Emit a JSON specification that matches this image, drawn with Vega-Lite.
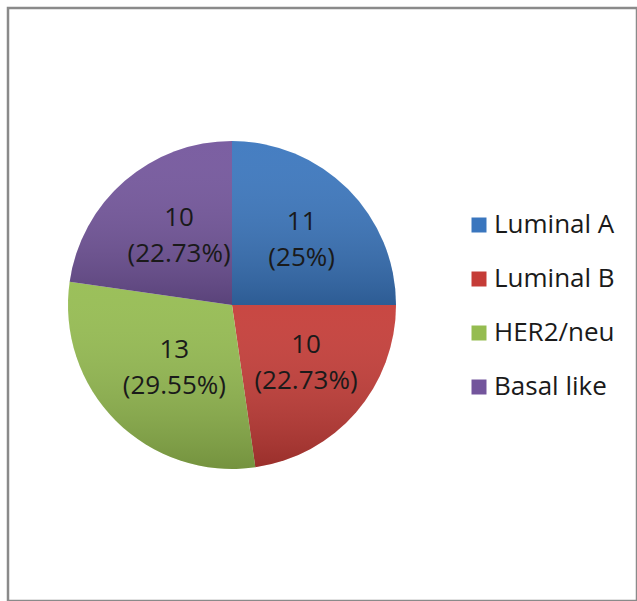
{
  "$schema": "https://vega.github.io/schema/vega-lite/v6.json",
  "autosize": "none",
  "width": 629,
  "height": 593,
  "padding": {"left": 8, "top": 8, "right": 0, "bottom": 0},
  "background": "white",
  "view": {"stroke": "#8a8a8a", "strokeWidth": 2.5, "fill": "white"},
  "config": {
    "font": "Open Sans"
  },
  "data": {
    "values": [
      {"subtype": "Luminal A", "count": 11, "idx": 1, "label": "11\n(25%)"},
      {"subtype": "Luminal B", "count": 10, "idx": 2, "label": "10\n(22.73%)"},
      {"subtype": "HER2/neu", "count": 13, "idx": 3, "label": "13\n(29.55%)"},
      {"subtype": "Basal like", "count": 10, "idx": 4, "label": "10\n(22.73%)"}
    ]
  },
  "layer": [
    {
      "mark": {"type": "arc", "outerRadius": 164, "x": 224, "y": 297},
      "encoding": {
        "theta": {"field": "count", "type": "quantitative", "stack": true},
        "order": {"field": "idx", "type": "quantitative"},
        "color": {
          "field": "subtype",
          "type": "nominal",
          "sort": null,
          "scale": {
            "domain": ["Luminal A", "Luminal B", "HER2/neu", "Basal like"],
            "range": ["#3A76BE", "#C53C37", "#95BC50", "#73559C"]
          },
          "legend": {
            "orient": "none",
            "legendX": 458,
            "legendY": 204,
            "padding": 0,
            "title": null,
            "symbolType": "square",
            "symbolSize": 225,
            "symbolStrokeWidth": 0,
            "symbolOpacity": 1,
            "labelFontSize": 26,
            "labelFont": "Open Sans",
            "labelColor": "#1a1a1a",
            "labelOffset": 2,
            "rowPadding": 28,
            "labelLimit": 300
          }
        }
      }
    },
    {
      "mark": {
        "type": "arc", "outerRadius": 164, "x": 224, "y": 297,
        "color": {"gradient": "linear", "x1": 0, "y1": 0, "x2": 0, "y2": 1,
          "stops": [{"offset": 0, "color": "rgba(255,255,255,0.06)"}, {"offset": 1, "color": "rgba(0,0,0,0.22)"}]}
      },
      "encoding": {
        "theta": {"field": "count", "type": "quantitative", "stack": true},
        "order": {"field": "idx", "type": "quantitative"}
      }
    },
    {
      "mark": {"type": "text", "radius": 90, "x": 224, "y": 297, "dx": 6, "dy": -19, "fontSize": 26, "lineBreak": "\n", "lineHeight": 36, "align": "center", "baseline": "middle", "color": "#1a1a1a"},
      "encoding": {
        "theta": {"field": "count", "type": "quantitative", "stack": true},
        "order": {"field": "idx", "type": "quantitative"},
        "text": {"field": "label", "type": "nominal"}
      }
    }
  ]
}
